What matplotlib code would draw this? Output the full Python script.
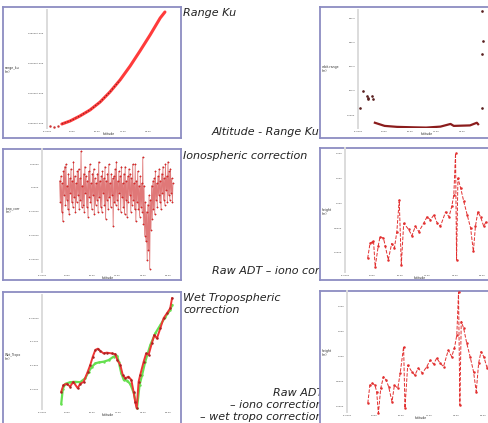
import matplotlib.pyplot as plt

W, H = 489, 423

# ---- data ----
# panel 1: range_ku vs latitude
range_lat = [4.7, 7.3, 10.4, 13.6, 16.8, 19.9, 23.1, 26.3, 29.4, 32.6, 35.8, 37.3]
range_ku = [1334832, 1335337, 1336178, 1337189, 1338535, 1340219,
            1342239, 1344596, 1347121, 1349815, 1352677, 1353687]
range_start_lat = [1.0, 2.3, 3.5]
range_start = [1334500, 1334330, 1334450]

# panel 2: orbit - range
orbit_pts_lat = [0.5, 1.6, 2.8, 3.0, 3.2, 4.3, 4.5, 38.1, 38.6, 38.3, 38.1]
orbit_pts = [30, 100, 80, 70, 65, 80, 68, 431, 307, 252, 30]
orbit_line_lat = [5.2, 8.2, 12.0, 17.3, 21.0, 25.4, 28.5, 29.5, 34.5, 36.6, 37.0]
orbit_line = [-32, -45, -49, -51, -52, -48, -37, -45, -43, -32, -38]

# panel 3: ionospheric correction
iono_lat = [5.6, 5.8, 6.0, 6.2, 6.4, 6.6, 6.8, 7.0, 7.2, 7.4,
            7.6, 7.8, 8.0, 8.2, 8.4, 8.6, 8.8, 9.0, 9.2, 9.4,
            9.6, 9.8, 10.0, 10.2, 10.4, 10.6, 10.8, 11.0, 11.2, 11.4,
            11.6, 11.8, 12.0, 12.2, 12.4, 12.6, 12.8, 13.0, 13.2, 13.4,
            13.6, 13.8, 14.0, 14.2, 14.4, 14.6, 14.8, 15.0, 15.2, 15.4,
            15.6, 15.8, 16.0, 16.2, 16.4, 16.6, 16.8, 17.0, 17.2, 17.4,
            17.6, 17.8, 18.0, 18.2, 18.4, 18.6, 18.8, 19.0, 19.2, 19.4,
            19.6, 19.8, 20.0, 20.2, 20.4, 20.6, 20.8, 21.0, 21.2, 21.4,
            21.6, 21.8, 22.0, 22.2, 22.4, 22.6, 22.8, 23.0, 23.2, 23.4,
            23.6, 23.8, 24.0, 24.2, 24.4, 24.6, 24.8, 25.0, 25.2, 25.4,
            25.6, 25.8, 26.0, 26.2, 26.4, 26.6, 26.8, 27.0, 27.2, 27.4,
            27.6, 27.8, 28.0, 28.2, 28.4, 28.6, 28.8, 29.0, 29.2, 29.4,
            29.6, 29.8, 30.0, 30.2, 30.4, 30.6, 30.8, 31.0, 31.2, 31.4,
            31.6, 31.8, 32.0, 32.2, 32.4, 32.6, 32.8, 33.0, 33.2, 33.4,
            33.6, 33.8, 34.0, 34.2, 34.4, 34.6, 34.8, 35.0, 35.2, 35.4,
            35.6, 35.8, 36.0, 36.2, 36.4, 36.6, 36.8, 37.0, 37.2, 37.4,
            37.6, 37.8, 38.0, 38.2, 38.4, 38.6, 38.8, 39.0, 39.2, 39.4,
            39.6, 39.8, 40.0, 40.2, 40.4, 40.6, 40.8, 41.0, 41.2, 41.4,
            41.6]
iono_corr = [0.006, -0.012, 0.010, -0.020, 0.004, -0.028, 0.014, -0.006, 0.018, -0.014,
             0.020, -0.010, 0.002, -0.018, 0.012, -0.022, 0.008, -0.004, 0.016, -0.012,
             0.006, -0.016, 0.022, -0.008, 0.010, -0.020, 0.004, -0.012, 0.014, -0.006,
             0.016, -0.018, 0.008, -0.010, 0.031, -0.016, 0.002, -0.014, 0.012, -0.020,
             0.018, -0.004, 0.010, -0.016, 0.006, -0.024, 0.014, -0.008, 0.020, -0.012,
             0.004, -0.018, 0.012, -0.006, 0.016, -0.022, 0.008, -0.014, 0.004, -0.010,
             0.012, -0.020, 0.022, -0.008, 0.006, -0.016, 0.010, -0.020, 0.014, -0.004,
             0.008, -0.014, 0.018, -0.026, 0.006, -0.010, 0.012, -0.018, 0.020, -0.008,
             0.004, -0.016, 0.012, -0.006, 0.008, -0.032, 0.010, -0.012, 0.016, -0.014,
             0.022, -0.010, 0.006, -0.018, 0.014, -0.004, 0.010, -0.020, 0.018, -0.008,
             0.004, -0.016, 0.012, -0.022, 0.018, -0.010, 0.006, -0.024, 0.010, -0.012,
             0.016, -0.006, 0.012, -0.020, 0.008, -0.014, 0.020, -0.010, 0.004, -0.018,
             0.020, -0.028, 0.006, -0.012, 0.014, -0.018, 0.002, -0.024, 0.010, -0.016,
             0.004, -0.020, 0.026, -0.030, 0.002, -0.040, -0.012, -0.045, -0.020, -0.061,
             -0.014, -0.052, -0.006, -0.068, -0.010, -0.035, 0.002, -0.026, 0.006, -0.018,
             0.008, -0.022, 0.014, -0.010, 0.004, -0.016, 0.010, -0.006, 0.016, -0.012,
             0.006, -0.018, 0.012, -0.004, 0.018, -0.010, 0.008, -0.014, 0.020, -0.002,
             0.010, -0.012, 0.022, -0.006, 0.014, -0.010, 0.016, -0.004, 0.008, -0.012,
             0.004]

# panel 4: raw ADT - iono
h1_lat = [6.6, 7.3, 8.0, 8.3, 8.8, 9.7, 10.2, 11.2, 11.7, 12.6, 13.6, 14.4, 15.1,
          15.8, 16.4, 17.1, 18.5, 19.5, 20.5, 21.5, 22.9, 23.9, 24.9, 25.9, 26.9,
          27.8, 29.3, 30.3, 31.1, 31.7, 32.2, 32.5, 32.9, 33.7, 34.6, 35.6, 36.6,
          37.4, 38.0, 38.7, 39.5, 40.4, 41.1]
h1 = [-0.11, 0.20, 0.22, 0.25, -0.28, 0.15, 0.33, 0.30, 0.15, -0.14, 0.19, 0.10, 0.43,
      1.07, -0.24, 0.60, 0.48, 0.35, 0.54, 0.43, 0.60, 0.73, 0.67, 0.77, 0.60,
      0.54, 0.83, 0.73, 0.94, 1.17, 2.01, -0.14, 1.51, 1.31, 1.04, 0.77, 0.50,
      0.03, 0.54, 0.83, 0.73, 0.54, 0.63]

# panel 5: wet tropospheric correction (two models)
wet_red_lat = [6.1, 6.8, 7.9, 8.9, 9.9, 11.3, 12.1, 13.2, 14.5, 15.3, 16.1, 16.9, 17.7,
               18.4, 19.5, 20.5, 22.1, 23.2, 23.9, 24.8, 25.6, 26.4, 27.4, 28.3, 29.0,
               29.5, 30.0, 30.6, 31.1, 32.2, 33.0, 33.8, 34.8, 35.6, 36.4, 37.5, 38.5,
               39.6, 40.6, 41.2]
wet_red = [-0.246, -0.229, -0.226, -0.233, -0.221, -0.237, -0.226, -0.221, -0.195, -0.178,
           -0.157, -0.140, -0.137, -0.142, -0.149, -0.147, -0.149, -0.151, -0.166, -0.178,
           -0.204, -0.212, -0.208, -0.216, -0.246, -0.271, -0.288, -0.221, -0.204, -0.170,
           -0.149, -0.152, -0.123, -0.102, -0.111, -0.085, -0.060, -0.047, -0.035, -0.009]
wet_green_lat = [6.1, 6.6, 7.4, 8.9, 10.5, 12.1, 13.7, 14.8, 15.8, 16.9, 17.9, 19.5,
                 21.1, 22.7, 23.8, 24.3, 25.1, 25.9, 27.0, 28.0, 29.1, 30.1, 30.9,
                 31.7, 32.7, 34.3, 35.9, 37.5, 39.1, 40.6, 41.2]
wet_green = [-0.276, -0.238, -0.226, -0.222, -0.221, -0.222, -0.212, -0.195, -0.183,
             -0.174, -0.172, -0.170, -0.166, -0.157, -0.155, -0.170, -0.199, -0.216,
             -0.218, -0.227, -0.250, -0.288, -0.229, -0.204, -0.170, -0.128, -0.098,
             -0.077, -0.056, -0.039, -0.026]

# panel 6: raw ADT - iono - wet tropo
h2_lat = [6.1, 6.7, 7.4, 8.2, 8.7, 9.2, 9.9, 10.7, 11.5, 12.2, 13.2, 13.9, 14.9, 15.6,
          16.6, 17.0, 17.8, 19.0, 19.9, 20.9, 22.1, 23.4, 24.4, 25.4, 26.3, 27.3,
          28.3, 29.7, 30.7, 31.5, 32.2, 32.7, 33.1, 33.5, 34.2, 35.1, 36.1, 37.1,
          37.9, 38.6, 39.3, 40.1, 41.1, 41.7]
h2 = [0.07, 0.43, 0.47, 0.43, 0.30, -0.13, 0.37, 0.60, 0.53, 0.40, 0.10, 0.43, 0.37, 0.67,
      1.20, -0.03, 0.83, 0.70, 0.63, 0.77, 0.67, 0.80, 0.93, 0.85, 0.97, 0.87,
      0.80, 1.13, 1.00, 1.17, 1.43, 2.29, 0.03, 1.70, 1.57, 1.27, 1.00, 0.70,
      0.30, 0.87, 1.10, 1.00, 0.77, 0.87]

lat_ticks = [0, 8, 16, 24, 32, 40]
lat_labels = ["-0.0000", "8.000", "16.00", "24.00", "32.00", "40.00"]
range_ticks = [1335000, 1340000, 1345000, 1350000]
range_labels = ["1.3350e+006", "1.3400e+006", "1.3450e+006", "1.3500e+006"]
orbit_ticks = [0, 100, 200, 300, 400]
orbit_labels = ["0.0000", "100.0", "200.0", "300.0", "400.0"]
iono_ticks = [0.02, 0.0, -0.02, -0.04, -0.06]
iono_labels = ["0.02000", "0.0000", "-0.02000", "-0.04000", "-0.06000"]
height_ticks = [0.0, 0.5, 1.0, 1.5, 2.0]
height_labels = ["0.0000", "0.5000", "1.000", "1.500", "2.000"]
wet_ticks = [-0.06, -0.12, -0.18, -0.24]
wet_labels = ["-0.06000", "-0.1200", "-0.1800", "-0.2400"]

FRAME = "#8c8cc2"
TXT = "#222222"


def px_rect(l, t, r, b):
    return [l / W, 1 - b / H, (r - l) / W, (b - t) / H]


def frame(fig, l, t, r, b):
    ax = fig.add_axes(px_rect(l, t, r, b), zorder=5)
    ax.set_xticks([])
    ax.set_yticks([])
    ax.set_facecolor("white")
    for s in ax.spines.values():
        s.set_color(FRAME)
        s.set_linewidth(1.3)
    return ax


def inner(fig, l, t, r, b, xlim, ylim, yt, yl, xt, xl):
    ax = fig.add_axes(px_rect(l, t, r, b), zorder=6)
    ax.patch.set_alpha(0)
    ax.set_xlim(xlim)
    ax.set_ylim(ylim)
    for k in ["top", "right", "bottom"]:
        ax.spines[k].set_visible(False)
    ax.spines["left"].set_color("#dcdcdc")
    ax.spines["left"].set_linewidth(1.4)
    ax.set_yticks(yt, yl)
    ax.set_xticks(xt, xl)
    ax.tick_params(length=0, labelsize=1.7, labelcolor="#444444", pad=1.8)
    ax.set_xlabel("latitude", fontsize=2.3, color="#333333", labelpad=0.2)
    return ax


def ylab(fig, x, y, s):
    fig.text(x / W, 1 - y / H, s, fontsize=2.3, color="#333333",
             va="center", ha="left", zorder=7, linespacing=1.0)


def note(fig, x, y, s, ha="left"):
    # y is the baseline of the last line
    fig.text(x / W, 1 - y / H, s, fontsize=8, style="italic", color=TXT,
             ha=ha, va="baseline", zorder=1, multialignment=ha, linespacing=1.28)


fig = plt.figure(figsize=(W / 100, H / 100), dpi=100)

# captions (drawn under the right-hand panels, so they get clipped)
note(fig, 183, 16, "Range Ku")
note(fig, 212, 135, "Altitude - Range Ku")
note(fig, 183, 159, "Ionospheric correction")
note(fig, 212, 274, "Raw ADT \u2013 iono correction")
note(fig, 183, 313, "Wet Tropospheric\ncorrection")
note(fig, 323, 420, "Raw ADT\n\u2013 iono correction\n\u2013 wet tropo correction", ha="right")

# --- range ku
frame(fig, 3, 7, 181, 138)
ax = inner(fig, 47, 10, 170, 128, (0, 38.9), (1334158, 1354024),
           range_ticks, range_labels, lat_ticks[:5], lat_labels[:5])
ax.plot(range_start_lat, range_start, ".", color="#cc3333", ms=1.5)
ax.plot(range_lat, range_ku, color="#ff3b3b", lw=2.2, solid_capstyle="round")
ax.plot(range_lat[:7], range_ku[:7], color="#7a2020", lw=0.8, ls=":")
ylab(fig, 5, 70, "range_ku\n(m)")

# --- orbit - range
frame(fig, 320, 7, 495, 138)
ax = inner(fig, 358, 10, 495, 128, (0, 42.2), (-53.7, 434),
           orbit_ticks, orbit_labels, lat_ticks[:5], lat_labels[:5])
ax.plot(orbit_pts_lat, orbit_pts, ".", color="#5a2020", ms=1.8, ls="none")
ax.plot(orbit_line_lat, orbit_line, color="#8b1c1c", lw=1.6)
ylab(fig, 322, 69, "orbit-range\n(m)")

# --- iono correction
frame(fig, 3, 149, 181, 280)
ax = inner(fig, 42, 149, 173, 272, (0, 41.6), (-0.0707, 0.0328),
           iono_ticks, iono_labels, lat_ticks, lat_labels)
ax.plot(iono_lat, iono_corr, color="#e07878", lw=0.6, marker="o", ms=1.0,
        mfc="#ee2222", mec="#992222", mew=0.2, clip_on=False)
ylab(fig, 6, 210, "iono_corr\n(m)")

# --- raw ADT - iono
frame(fig, 320, 148, 495, 280)
ax = inner(fig, 345, 148, 495, 272, (0, 43.7), (-0.384, 2.12),
           height_ticks, height_labels, lat_ticks, lat_labels)
ax.plot(h1_lat, h1, color="#e23030", lw=0.7, ls="--", marker=".", ms=1.6)
ylab(fig, 322, 212, "height\n(m)")

# --- wet tropo
frame(fig, 3, 292, 181, 432)
ax = inner(fig, 42, 295, 173, 409, (0, 41.5), (-0.2899, -0.0009),
           wet_ticks, wet_labels, lat_ticks, lat_labels)
ax.plot(wet_green_lat, wet_green, color="#66e050", lw=1.6, marker=".", ms=1.5,
        clip_on=False)
ax.plot(wet_red_lat, wet_red, color="#ee3535", lw=1.4, marker=".", ms=1.6,
        mec="#aa2222", clip_on=False)
ylab(fig, 5, 357, "Wet_Tropo\n(m)")

# --- raw ADT - iono - wet tropo
frame(fig, 320, 291, 495, 432)
ax = inner(fig, 347, 291, 495, 412, (0, 43.4), (-0.106, 2.31),
           height_ticks, height_labels, lat_ticks, lat_labels)
ax.plot(h2_lat, h2, color="#e23030", lw=0.7, ls="--", marker=".", ms=1.6,
        clip_on=False)
ylab(fig, 322, 353, "height\n(m)")

fig.savefig("out.png", dpi=100)
